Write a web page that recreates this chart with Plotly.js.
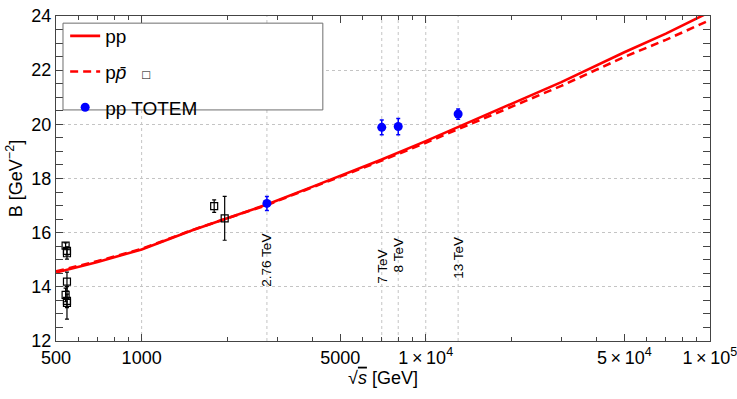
<!DOCTYPE html>
<html>
<head>
<meta charset="utf-8">
<script src="https://cdn.plot.ly/plotly-3.0.1.min.js"></script>
<style>html,body{margin:0;padding:0;background:#fff;}#chart{width:737px;height:399px;}</style>
</head>
<body>
<div id="chart"></div>
<script>
// Model curves
const curveX    = [500, 700, 1000, 1500, 2000, 2760, 4000, 7000, 10000, 13000, 20000, 30000, 50000, 70000, 100000];
const ppB       = [14.53, 14.92, 15.38, 16.08, 16.53, 17.04, 17.70, 18.70, 19.38, 19.90, 20.75, 21.56, 22.66, 23.35, 24.15];
const ppbarB    = [14.57, 14.95, 15.40, 16.09, 16.53, 17.02, 17.68, 18.66, 19.32, 19.82, 20.62, 21.42, 22.49, 23.12, 23.85];

// p-pbar data (open squares)
const ppbarDataX   = [540, 546, 546, 546, 540, 546, 546, 1800, 1960];
const ppbarDataY   = [15.52, 15.33, 15.24, 14.19, 13.70, 13.48, 13.41, 16.98, 16.53];
const ppbarDataErr = [0.10, 0.15, 0.22, 0.35, 0.25, 0.25, 0.60, 0.23, 0.81];

// pp TOTEM data
const totemX   = [2760, 7000, 8000, 13000];
const totemY   = [17.08, 19.89, 19.92, 20.38];
const totemErr = [0.26, 0.27, 0.30, 0.19];

// Energy labels
const energyLabels = ["2.76 TeV", "7 TeV", "8 TeV", "13 TeV"];
const energyLabelX = [2760, 7000, 8000, 13000];
const energyLabelY = [15.0, 14.73, 15.17, 15.08];

// Grid lines
const xGrid = [1000, 2760, 7000, 8000, 10000, 13000];

// Tick labels
const xTickVals = [500, 1000, 5000, 10000, 50000, 100000];
const xTickText = ["500", "1000", "5000", "1\u2009×\u200910<sup>4</sup>", "5\u2009×\u200910<sup>4</sup>", "1\u2009×\u200910<sup>5</sup>"];
const xMinorVals = [600, 700, 800, 900, 2000, 3000, 4000, 6000, 7000, 8000, 9000, 20000, 30000, 40000, 60000, 70000, 80000, 90000];
const yTickVals = [12, 14, 16, 18, 20, 22, 24];

const FONT = "Liberation Sans, Arial, sans-serif";
const RED = "#ff0000";
const FRAME = "#444";
const GRID = "#c4c4c4";
const NONE = "rgba(0,0,0,0)";
const XRANGE = [Math.log10(500) - 0.0004, 5.0004];

const traces = [
  {x: curveX, y: ppB, mode: "lines", name: "pp", line: {color: RED, width: 2.6}, legendgroup: "a"},
  {x: curveX, y: ppbarB, mode: "lines", name: "p<i>p̄</i>&nbsp;&nbsp;&nbsp;<span style='font-size:13px'>□</span>",
   line: {color: RED, width: 2.6, dash: "8px,5px"}, legendgroup: "b"},
  {x: ppbarDataX, y: ppbarDataY, mode: "markers", showlegend: false,
   marker: {symbol: "square-open", size: 7, color: "#000", line: {width: 1.2, color: "#000"}},
   error_y: {type: "data", array: ppbarDataErr, visible: true, color: "#000", thickness: 1.2, width: 2}},
  {x: totemX, y: totemY, mode: "markers", name: "pp TOTEM",
   marker: {symbol: "circle", size: 9, color: "#0000ff"},
   error_y: {type: "data", array: totemErr, visible: true, color: "#0000ff", thickness: 1.5, width: 2},
   legendgroup: "c"},
  // invisible trace to activate the minor-tick overlay axis
  {x: [1000], y: [18], xaxis: "x2", mode: "markers", marker: {opacity: 0}, showlegend: false, hoverinfo: "skip"}
];

const shapes = xGrid.map(v => ({type: "line", xref: "x", yref: "paper", x0: v, x1: v, y0: 0, y1: 1,
  line: {color: GRID, width: 1, dash: "dot"}, layer: "below"}));
shapes.push({type: "rect", xref: "paper", yref: "paper", x0: 0.0107, x1: 0.408, y0: 0.711, y1: 0.978,
  line: {color: "#6e6e6e", width: 1}, fillcolor: "#fff", layer: "above"});

const annotations = energyLabels.map((t, i) => ({
  x: Math.log10(energyLabelX[i]), y: energyLabelY[i], xref: "x", yref: "y", text: t, showarrow: false,
  textangle: -90, font: {family: FONT, size: 13.5, color: "#000"}
}));

const layout = {
  width: 737, height: 399,
  margin: {l: 56, r: 27, t: 16, b: 58},
  paper_bgcolor: "#fff", plot_bgcolor: "#fff",
  font: {family: FONT, size: 18, color: "#000"},
  showlegend: true,
  legend: {x: 0.014, y: 0.997, xanchor: "left", yanchor: "top", bgcolor: NONE,
    borderwidth: 0, font: {family: FONT, size: 19, color: "#000"}, traceorder: "grouped",
    tracegroupgap: 8, itemwidth: 30},
  xaxis: {type: "log", range: XRANGE, showgrid: false, zeroline: false,
    showline: true, linecolor: FRAME, linewidth: 1, mirror: "allticks",
    ticks: "inside", ticklen: 7, tickcolor: FRAME, tickwidth: 1,
    tickmode: "array", tickvals: xTickVals, ticktext: xTickText, ticklabeloverflow: "allow",
    tickfont: {family: FONT, size: 18, color: "#000"},
    title: {text: "√<span style='text-decoration:overline'><i>s</i></span> [GeV]", font: {family: FONT, size: 18}, standoff: 4}},
  xaxis2: {type: "log", range: XRANGE, overlaying: "x", anchor: "y", side: "bottom",
    showgrid: false, zeroline: false, showline: false, mirror: "allticks",
    ticks: "inside", ticklen: 4, tickcolor: FRAME, tickwidth: 1,
    tickmode: "array", tickvals: xMinorVals, showticklabels: false},
  yaxis: {range: [12, 24], showgrid: true, gridcolor: GRID, griddash: "dot", gridwidth: 1, zeroline: false,
    showline: true, linecolor: FRAME, linewidth: 1, mirror: "allticks",
    ticks: "inside", ticklen: 7, tickcolor: FRAME, tickwidth: 1,
    tickmode: "array", tickvals: yTickVals,
    tickfont: {family: FONT, size: 18, color: "#000"},
    minor: {dtick: 0.5, ticks: "inside", ticklen: 4, tickcolor: FRAME, showgrid: false},
    title: {text: "B [GeV<sup>−2</sup>]", font: {family: FONT, size: 18}, standoff: 4}},
  shapes: shapes,
  annotations: annotations
};

Plotly.newPlot("chart", traces, layout, {displayModeBar: false, staticPlot: true});
</script>
</body>
</html>
